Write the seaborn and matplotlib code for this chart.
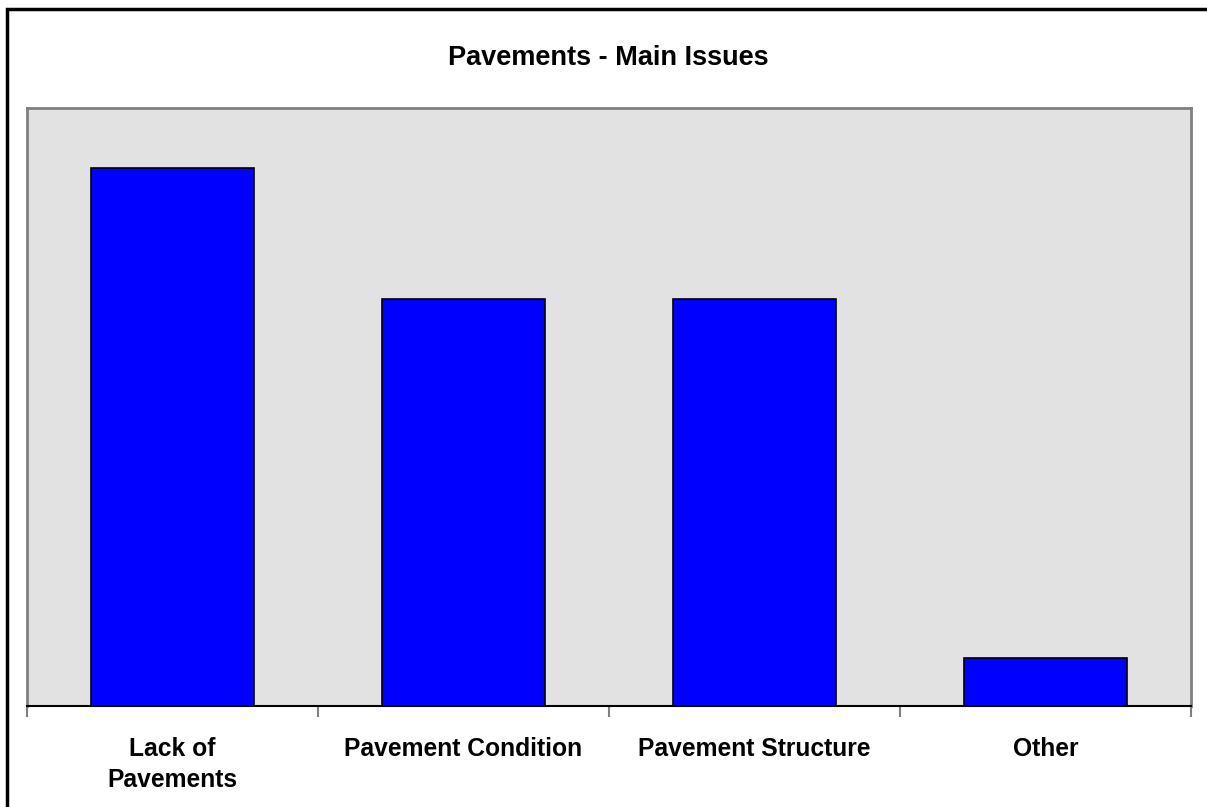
import matplotlib
matplotlib.use("Agg")
import matplotlib.pyplot as plt
import seaborn as sns
import pandas as pd
from matplotlib.patches import Rectangle

categories = ["Lack of\nPavements", "Pavement Condition", "Pavement Structure", "Other"]
values = [45, 34, 34, 4]
title = "Pavements - Main Issues"

sns.set_theme(style="white")
plt.rcParams['font.family'] = ['Liberation Sans', 'DejaVu Sans']
plt.rcParams['text.color'] = 'black'
plt.rcParams['xtick.color'] = 'black'

df = pd.DataFrame({"category": categories, "value": values})

fig = plt.figure(figsize=(12.07, 8.07), dpi=100)
ax = fig.add_axes([27/1207, 1-706/807, (1191-27)/1207, (706-108)/807])

sns.barplot(data=df, x="category", y="value", order=categories, color="#0000FF",
            saturation=1, width=0.56, edgecolor="black", linewidth=1.2, ax=ax, zorder=3)

ax.set_facecolor("#e2e2e2")
ax.set_xlim(-0.5, len(categories) - 0.5)
ax.set_ylim(0, 50)
ax.set_yticks([])
ax.set_xlabel("")
ax.set_ylabel("")
for side in ["left", "top", "right"]:
    ax.spines[side].set_color("#808080")
    ax.spines[side].set_linewidth(2)
ax.spines["bottom"].set_color("black")
ax.spines["bottom"].set_linewidth(1.5)

ax.set_xticks(range(len(categories)))
ax.set_xticklabels(categories, fontsize=17.7, fontweight="bold", linespacing=1.38,
                   va="top", color="black")
ax.tick_params(axis="x", which="major", length=0, pad=22)
ax.set_xticks([i - 0.5 for i in range(len(categories) + 1)], minor=True)
ax.tick_params(axis="x", which="minor", length=8, width=1.5, color="#808080", bottom=True)

fig.text(608/1207, 1-58/807, title, ha="center", va="center", fontsize=19.5,
         fontweight="bold", color="black")

fig.patches.append(Rectangle((7/1207, -0.1), 1.2, 1-9/807+0.1, transform=fig.transFigure,
                             fill=False, edgecolor="black", linewidth=2.5, figure=fig))

fig.savefig("out.png", dpi=100)
